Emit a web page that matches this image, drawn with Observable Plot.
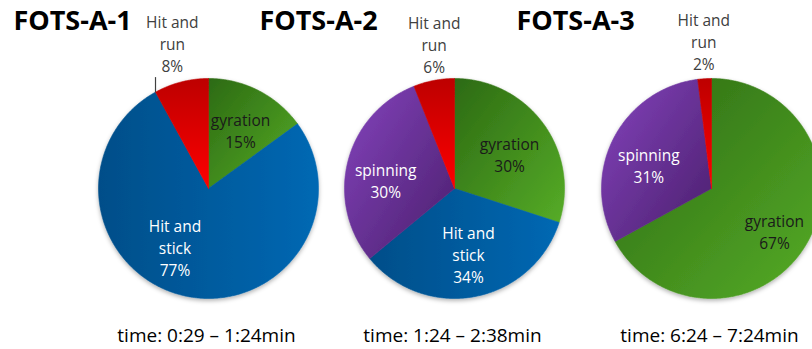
<!DOCTYPE html>
<html><head><meta charset="utf-8">
<script src="https://cdn.jsdelivr.net/npm/d3@7"></script>
<script src="https://cdn.jsdelivr.net/npm/@observablehq/plot@0.6"></script>
<style>body{margin:0;background:#fff}#chart svg{overflow:hidden}</style>
</head><body><div id="chart"></div>
<script>
// ---- data ----
const pieTitles = ["FOTS-A-1", "FOTS-A-2", "FOTS-A-3"];
const timeLabels = ["time: 0:29 – 1:24min", "time: 1:24 – 2:38min", "time: 6:24 – 7:24min"];
const pie1Categories = ["gyration", "Hit and stick", "Hit and run"];
const pie1Values = [15, 77, 8];
const pie2Categories = ["gyration", "Hit and stick", "spinning", "Hit and run"];
const pie2Values = [30, 34, 30, 6];
const pie3Categories = ["gyration", "spinning", "Hit and run"];
const pie3Values = [67, 31, 2];

// ---- layout & style ----
const W = 812, H = 349;
const centers = [[208, 188], [454, 188], [711, 188]];
const R = 110;
const titleDX = -136, titleY = 21, timeDX = -2, timeY = 335;
// label placement: [angle from 12 o'clock (deg), radius fraction]
const labelPlacement = [
  {"gyration": [28.5, 0.61], "Hit and stick": [210, 0.61], "Hit and run": [346, 1.36]},
  {"gyration": [58, 0.59], "Hit and stick": [168, 0.61], "spinning": [277, 0.63], "Hit and run": [352, 1.33]},
  {"gyration": [124, 0.69], "spinning": [291, 0.61], "Hit and run": [357, 1.34]}
];
const leaderPies = [0];
const sliceFill = {"gyration": "url(#g-green)", "Hit and stick": "url(#g-blue)", "Hit and run": "url(#g-red)", "spinning": "url(#g-purple)"};
const labelColor = {"gyration": "#1a1a1a", "Hit and stick": "#ffffff", "spinning": "#ffffff"};
const outsideColor = "#404040";
const FONT = "'Open Sans', Lato, sans-serif";

const pies = [
  {cats: pie1Categories, vals: pie1Values},
  {cats: pie2Categories, vals: pie2Values},
  {cats: pie3Categories, vals: pie3Values}
];

const pts = [], labels = [], titles = [], times = [], leaders = [];
const deg = Math.PI / 180;
pies.forEach((p, i) => {
  const [cx, cy] = centers[i];
  const total = d3.sum(p.vals);
  const arcs = d3.pie().sort(null).value(d => d.v)(p.cats.map((c, j) => ({c, v: p.vals[j]})));
  arcs.forEach(a => {
    const key = i + "-" + a.data.c;
    const fill = sliceFill[a.data.c];
    pts.push({key, x: cx, y: cy, fill});
    const n = Math.max(2, Math.ceil((a.endAngle - a.startAngle) / (0.5 * deg)));
    for (let k = 0; k <= n; k++) {
      const t = a.startAngle + (a.endAngle - a.startAngle) * k / n;
      pts.push({key, x: cx + R * Math.sin(t), y: cy - R * Math.cos(t), fill});
    }
    pts.push({key, x: cx, y: cy, fill});
    const [ang, rf] = labelPlacement[i][a.data.c];
    const pct = Math.round(a.data.v / total * 100) + "%";
    const name = a.data.c.replace(/ (\S+)$/, "\n$1");
    labels.push({
      x: cx + rf * R * Math.sin(ang * deg),
      y: cy - rf * R * Math.cos(ang * deg),
      text: name + "\n" + pct,
      fill: rf > 1 ? outsideColor : labelColor[a.data.c]
    });
    if (rf > 1 && leaderPies.includes(i)) {
      const x0 = cx + R * Math.sin(a.startAngle), y0 = cy - R * Math.cos(a.startAngle);
      leaders.push({x1: x0, y1: y0, x2: x0, y2: y0 - 15});
    }
  });
  titles.push({x: cx + titleDX, y: titleY, text: pieTitles[i]});
  times.push({x: cx + timeDX, y: timeY, text: timeLabels[i]});
});

const chart = Plot.plot({
  width: W, height: H, margin: 0,
  style: {background: "#fff", fontFamily: FONT},
  x: {domain: [0, W], range: [0, W], axis: null},
  y: {domain: [0, H], range: [0, H], axis: null},
  color: {type: "identity"},
  marks: [
    Plot.line(pts, {x: "x", y: "y", z: "key", fill: "fill", stroke: "fill", strokeWidth: 0.6, curve: "linear"}),
    Plot.link(leaders, {x1: "x1", y1: "y1", x2: "x2", y2: "y2", stroke: "#404040", strokeWidth: 1.2}),
    Plot.text(labels, {x: "x", y: "y", text: "text", fill: "fill", fontSize: 15.5, lineHeight: 1.42, lineAnchor: "middle", textAnchor: "middle", fontFamily: FONT}),
    Plot.text(titles, {x: "x", y: "y", text: "text", fill: "#000", fontSize: 27, fontWeight: "bold", lineAnchor: "middle", textAnchor: "middle", fontFamily: FONT}),
    Plot.text(times, {x: "x", y: "y", text: "text", fill: "#000", fontSize: 19, lineAnchor: "middle", textAnchor: "middle", fontFamily: FONT})
  ]
});

// gradients and shadow
const ns = "http://www.w3.org/2000/svg";
const defs = document.createElementNS(ns, "defs");
defs.innerHTML = `
  <linearGradient id="g-green" x1="0" y1="0" x2="1" y2="1">
    <stop offset="0" stop-color="#2c6a13"/><stop offset="1" stop-color="#56ac27"/></linearGradient>
  <linearGradient id="g-blue" x1="0" y1="0" x2="1" y2="0">
    <stop offset="0" stop-color="#004e89"/><stop offset="1" stop-color="#0068b3"/></linearGradient>
  <linearGradient id="g-red" x1="0" y1="0" x2="0" y2="1">
    <stop offset="0" stop-color="#bd0000"/><stop offset="1" stop-color="#ff0000"/></linearGradient>
  <linearGradient id="g-purple" x1="0" y1="0" x2="1" y2="1">
    <stop offset="0" stop-color="#8443bd"/><stop offset="1" stop-color="#4a1f6c"/></linearGradient>
  <filter id="pie-shadow" x="-10%" y="-10%" width="120%" height="125%">
    <feDropShadow dx="0" dy="2" stdDeviation="2" flood-color="#000" flood-opacity="0.3"/></filter>`;
const svg = chart.tagName.toLowerCase() === "svg" ? chart : chart.querySelector("svg");
svg.insertBefore(defs, svg.firstChild);
const lineG = svg.querySelector('g[aria-label="line"]');
if (lineG) lineG.setAttribute("filter", "url(#pie-shadow)");
document.getElementById("chart").appendChild(chart);
</script>
</body></html>
